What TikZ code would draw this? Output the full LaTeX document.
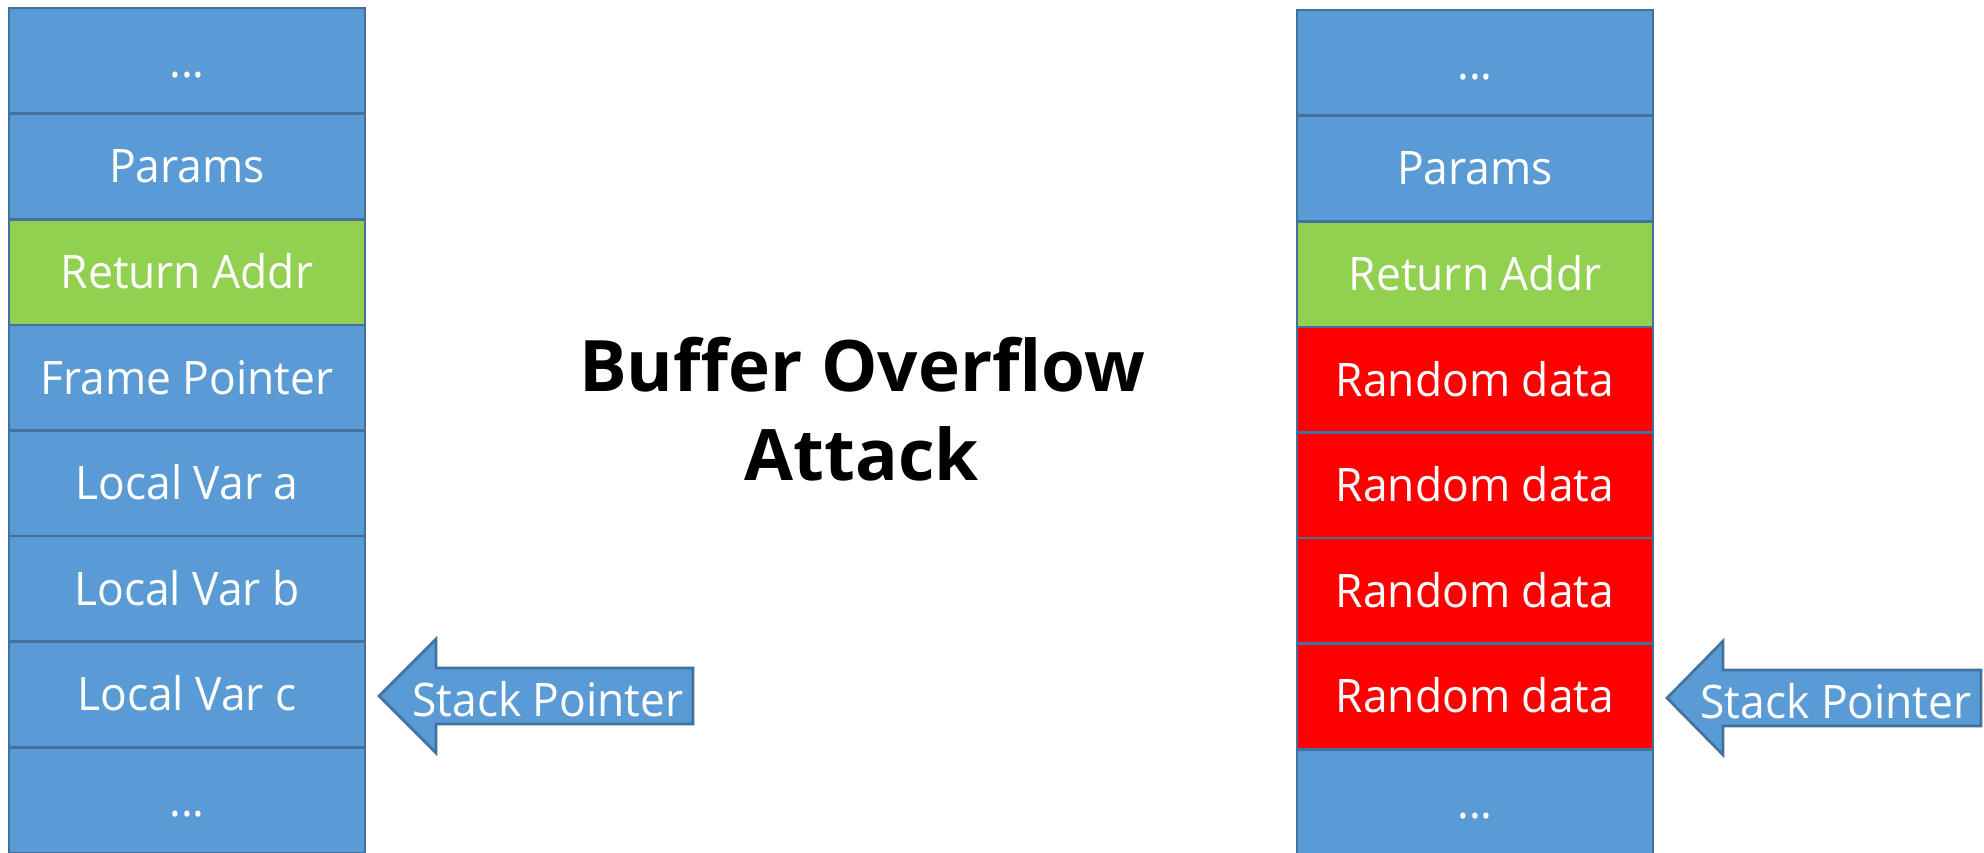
\documentclass[tikz,border=0pt]{standalone}
\usepackage{fontspec}
\setmainfont{Open Sans}
\newfontfamily\cellfont[FakeStretch=0.96]{Open Sans}
\newfontfamily\titlefont{Open Sans}
\definecolor{cblue}{HTML}{5B9BD5}
\definecolor{cedge}{HTML}{41719C}
\definecolor{cgreen}{HTML}{92D050}
\definecolor{cred}{HTML}{FF0000}
\tikzset{
  cell/.style={draw=cedge, line width=1.3pt, fill=cblue, rectangle, inner sep=0pt,
    minimum width=178pt, minimum height=52.8pt, text=white,
    font=\cellfont\fontsize{23.1}{27}\selectfont, text height=16.5pt, text depth=0pt},
  retcell/.style={cell, fill=cgreen},
  redcell/.style={cell, fill=cred},
  ptr/.style={draw=cedge, line width=1.3pt, fill=cblue, line join=miter},
  ptrlbl/.style={text=white, font=\cellfont\fontsize{23.1}{27}\selectfont, inner sep=0pt,
    text height=16.5pt, text depth=0pt},
  title/.style={font=\titlefont\bfseries\fontsize{35.5}{44.5}\selectfont, inner sep=0pt, anchor=base}
}
\begin{document}
\begin{tikzpicture}[x=0.5pt,y=-0.5pt]
\useasboundingbox (0,0) rectangle (1984,852);
\clip (0,0) rectangle (1984,852);
% left stack
\node[cell]    (l0) at (187,60.8)  {...};
\node[cell]    (l1) at (187,166.4) {Params};
\node[retcell] (l2) at (187,272.0) {Return Addr};
\node[cell]    (l3) at (187,377.6) {Frame Pointer};
\node[cell]    (l4) at (187,483.2) {Local Var a};
\node[cell]    (l5) at (187,588.8) {Local Var b};
\node[cell]    (l6) at (187,694.4) {Local Var c};
\node[cell]    (l7) at (187,800.0) {...};
% right stack
\node[cell]    (r0) at (1475,62.8)  {...};
\node[cell]    (r1) at (1475,168.4) {Params};
\node[retcell] (r2) at (1475,274.0) {Return Addr};
\node[redcell] (r3) at (1475,379.6) {Random data};
\node[redcell] (r4) at (1475,485.2) {Random data};
\node[redcell] (r5) at (1475,590.8) {Random data};
\node[redcell] (r6) at (1475,696.4) {Random data};
\node[cell]    (r7) at (1475,802.0) {...};
% title
\node[title] (t1) at (862,391) {Buffer Overflow};
\node[title] (t2) at (862,480) {Attack};
% left stack pointer arrow
\draw[ptr] (379,696) -- (436,639) -- (436,668) -- (693,668) -- (693,724) -- (436,724) -- (436,753) -- cycle;
\node[ptrlbl] (lp) at (548,699.5) {Stack Pointer};
% right stack pointer arrow
\draw[ptr] (1667,698) -- (1723,641) -- (1723,670) -- (1981,670) -- (1981,726) -- (1723,726) -- (1723,755) -- cycle;
\node[ptrlbl] (rp) at (1836,701.5) {Stack Pointer};
\end{tikzpicture}
\end{document}
